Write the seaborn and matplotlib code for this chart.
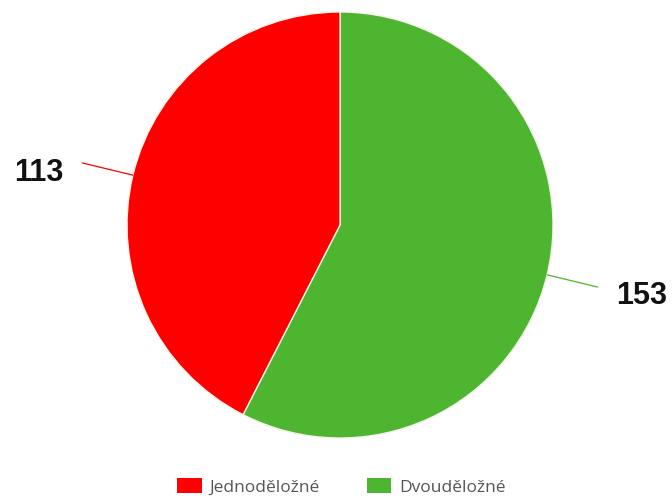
import numpy as np
import matplotlib
matplotlib.use("Agg")
import matplotlib.pyplot as plt
import seaborn as sns

labels = ["Dvouděložné", "Jednoděložné"]
values = [153, 113]
colors = ["#4db52f", "#ff0000"]

sns.set_style("white")

fig = plt.figure(figsize=(6.72, 4.99), dpi=100)
r_px = 213
cx, cy = 340, 225
ax = fig.add_axes([(cx - r_px) / 672, (499 - cy - r_px) / 499, 2 * r_px / 672, 2 * r_px / 499])

wedges, _ = ax.pie(values, colors=colors, startangle=90, counterclock=False,
                   wedgeprops=dict(edgecolor="#f4f4e8", linewidth=1))
ax.set_xlim(-1, 1)
ax.set_ylim(-1, 1)
ax.set_aspect("equal")
ax.axis("off")

# leader lines + value labels
for w, v, c in zip(wedges, values, colors):
    ang = np.deg2rad((w.theta1 + w.theta2) / 2)
    x, y = np.cos(ang), np.sin(ang)
    ax.plot([x * 1.0, x * 1.245], [y * 1.0, y * 1.245],
            color=c, lw=0.9, clip_on=False)
    tx = x * 1.455
    ty = y * 1.43 - (0.09 if x < 0 else 0.0)
    ax.text(tx, ty, str(v), ha="center", va="center", fontsize=22,
            fontweight="bold", family="Liberation Sans", color="#111111", clip_on=False)

# legend (red first)
handles = [wedges[1], wedges[0]]
leg = fig.legend(handles, [labels[1], labels[0]], loc="center", ncol=2,
                 bbox_to_anchor=(0.508, 0.024), frameon=False, handlelength=1.4,
                 handleheight=0.9, columnspacing=2.7, handletextpad=0.45,
                 prop=dict(family="Open Sans", size=12.5))
for t in leg.get_texts():
    t.set_color("#555555")
for h in leg.legend_handles:
    h.set_edgecolor("none")

fig.savefig("out.png", dpi=100)
